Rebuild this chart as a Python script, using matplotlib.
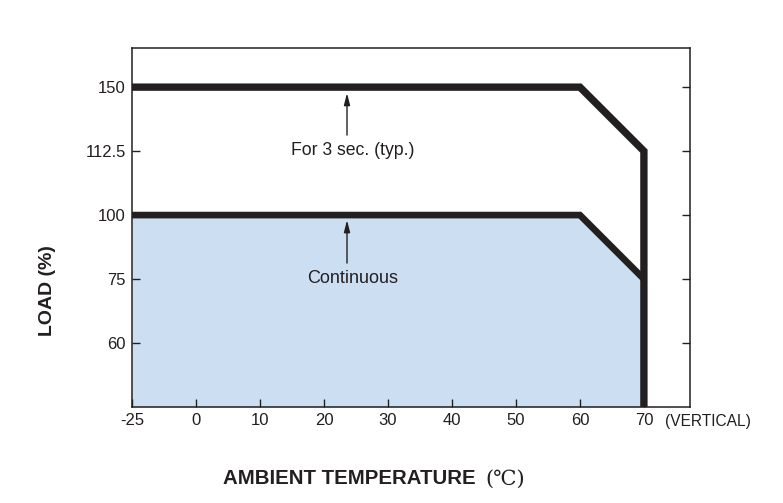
import numpy as np
import matplotlib
matplotlib.use("Agg")
import matplotlib.pyplot as plt

# tick values (axes are evenly spaced between the listed ticks)
x_ticks = [-25, 0, 10, 20, 30, 40, 50, 60, 70]
y_ticks = [60, 75, 100, 112.5, 150]
y_tick_labels = ["60", "75", "100", "112.5", "150"]

# derating curves
temp = [-25, 60, 70, 70]
load_peak = [150, 150, 112.5, 45]
temp_cont = [-25, 60, 70]
load_cont = [100, 100, 75]

# knots for the piecewise scales
x_knots = [-50] + x_ticks + [80]
y_knots = [45] + y_ticks + [175]

ink = "#231f20"
fill_col = "#cbdef2"

plt.rcParams["font.family"] = ["Liberation Sans", "DejaVu Sans"]


def make_scale(knots):
    pos = np.arange(len(knots), dtype=float)

    def fwd(v):
        return np.interp(v, knots, pos)

    def inv(p):
        return np.interp(p, pos, knots)
    return fwd, inv


fig = plt.figure(figsize=(7.83, 5.03), dpi=100)
ax = fig.add_axes([0.1686, 0.1909, 0.7126, 0.7137])
ax.set_xscale("function", functions=make_scale(x_knots))
ax.set_yscale("function", functions=make_scale(y_knots))
ax.set_xlim(-25, 77.2)
ax.set_ylim(45, 165.3)

ax.fill_between(temp_cont, load_cont, 45, color=fill_col, lw=0, zorder=1)
ax.plot(temp, load_peak, color=ink, lw=5.3, solid_joinstyle="miter",
        solid_capstyle="butt", zorder=3)
ax.plot(temp_cont, load_cont, color=ink, lw=4.8, solid_joinstyle="miter",
        solid_capstyle="butt", zorder=3)

# annotations
ax.annotate("", xy=(23.6, 146.5), xytext=(23.6, 121.9),
            arrowprops=dict(arrowstyle="-|>,head_length=0.7,head_width=0.18",
                            color=ink, lw=1.0, shrinkA=0, shrinkB=0))
ax.text(24.5, 113.0, "For 3 sec. (typ.)", ha="center", va="center",
        fontsize=12.7, color=ink)
ax.annotate("", xy=(23.6, 98), xytext=(23.6, 81.25),
            arrowprops=dict(arrowstyle="-|>,head_length=0.7,head_width=0.18",
                            color=ink, lw=1.0, shrinkA=0, shrinkB=0))
ax.text(24.4, 75.4, "Continuous", ha="center", va="center",
        fontsize=13, color=ink)

ax.set_xticks(x_ticks)
ax.set_xticklabels([str(t) for t in x_ticks])
ax.set_yticks(y_ticks)
ax.set_yticklabels(y_tick_labels)
ax.minorticks_off()
ax.tick_params(axis="both", direction="in", length=5.5, width=1.0,
               color=ink, labelcolor=ink, labelsize=12, pad=4.5)
ax.tick_params(axis="y", right=True)
ax.tick_params(axis="x", top=False)
for s in ax.spines.values():
    s.set_linewidth(1.1)
    s.set_color(ink)

fig.text(665 / 783, 1 - 421.5 / 503, "(VERTICAL)", ha="left", va="center",
         fontsize=11.2, color=ink)
fig.text(47 / 783, 1 - 291 / 503, "LOAD (%)", rotation=90, ha="center",
         va="center", fontsize=14, fontweight="bold", color=ink)
fig.text(223 / 783, 1 - 479 / 503, "AMBIENT TEMPERATURE", ha="left",
         va="center", fontsize=14.7, fontweight="bold", color=ink)
fig.text(485 / 783, 1 - 479 / 503, "(\u2103)", ha="left", va="center",
         fontsize=15, color=ink, family=["DejaVu Serif", "Noto Sans CJK SC"])

fig.savefig("out.png", dpi=100)
